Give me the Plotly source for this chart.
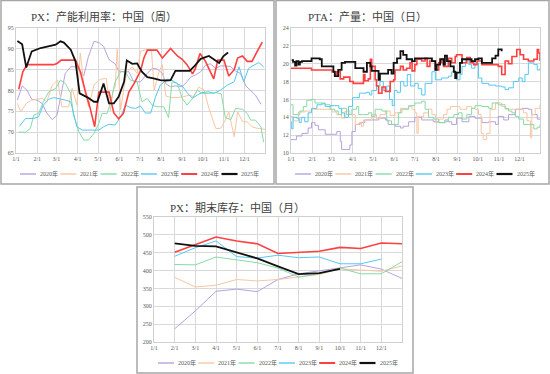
import pandas as pd
import plotly.graph_objects as go

W, H = 550, 374
YEARS = ["2020年", "2021年", "2022年", "2023年", "2024年", "2025年"]
COLORS = ["#B7A2DE", "#F8C6A2", "#86DBA6", "#55C8F2", "#FF4040", "#111111"]
WIDTHS = [1, 1, 1, 1, 1.6, 1.8]

# ---------- PX utilisation (weekly), day-of-year offsets and values ----------
px_d_2020 = [2, 9, 16, 23, 31, 38, 45, 53, 60, 67, 72, 80, 89, 99, 106, 114, 121, 128, 136, 145, 150, 158, 165, 172, 182, 192, 199, 206, 214, 219, 226, 233, 243, 250, 255, 262, 270, 277, 284, 292, 299, 306, 314, 321, 328, 336, 343, 350, 358]
px_v_2020 = [77.7, 81.1, 80.1, 77.9, 77.7, 76.9, 74.6, 73.0, 74.1, 80.5, 84.1, 85.7, 85.7, 83.5, 88.2, 91.8, 91.5, 90.6, 87.4, 86.4, 84.7, 84.5, 84.5, 82.1, 82.1, 84.1, 85.3, 85.2, 84.1, 81.6, 80.9, 81.1, 80.9, 82.1, 83.2, 83.7, 84.5, 86.1, 86.4, 85.3, 85.9, 85.9, 85.7, 84.7, 84.1, 81.1, 80.0, 78.9, 76.7]
px_d_2021 = [2, 7, 15, 23, 31, 38, 45, 53, 61, 67, 77, 82, 89, 94, 99, 106, 114, 123, 132, 138, 142, 145, 148, 153, 158, 162, 170, 177, 182, 192, 198, 202, 209, 214, 219, 226, 236, 245, 253, 260, 267, 275, 282, 292, 299, 306, 311, 319, 324, 331, 338, 345, 353, 365]
px_v_2021 = [76.9, 74.9, 76.9, 77.7, 77.9, 78.1, 77.3, 81.3, 82.5, 76.1, 76.1, 80.5, 76.5, 89.0, 81.7, 76.1, 81.3, 82.7, 82.9, 75.1, 80.1, 80.9, 89.9, 75.3, 80.9, 84.5, 85.7, 84.1, 89.4, 89.9, 89.8, 80.1, 84.5, 86.2, 78.7, 78.3, 78.3, 78.5, 78.9, 78.5, 80.8, 80.1, 75.7, 70.9, 70.9, 72.9, 74.9, 68.9, 74.9, 72.5, 72.5, 71.3, 70.9, 70.7]
px_d_2022 = [4, 14, 21, 26, 33, 40, 48, 58, 65, 72, 80, 84, 92, 99, 106, 114, 121, 126, 133, 138, 145, 153, 160, 167, 177, 184, 192, 199, 206, 216, 223, 228, 236, 243, 250, 258, 265, 272, 282, 292, 300, 306, 314, 321, 331, 338, 343, 350, 358, 362]
px_v_2022 = [70.0, 70.0, 70.9, 74.1, 74.5, 77.3, 79.7, 80.5, 82.5, 81.7, 79.3, 74.1, 70.1, 68.1, 68.1, 69.7, 72.1, 74.5, 74.5, 76.9, 82.1, 84.5, 84.5, 82.5, 82.1, 77.3, 78.1, 76.5, 76.1, 76.1, 73.5, 82.1, 81.7, 78.1, 76.5, 78.1, 80.1, 79.3, 79.3, 79.5, 79.2, 73.5, 73.0, 75.7, 75.5, 74.5, 72.9, 72.9, 71.3, 67.6]
px_d_2023 = [5, 14, 26, 33, 40, 48, 55, 62, 72, 80, 89, 97, 109, 121, 128, 136, 145, 153, 160, 167, 175, 182, 189, 197, 204, 211, 221, 228, 236, 243, 250, 258, 265, 272, 282, 289, 299, 309, 319, 326, 333, 340, 348, 355, 362]
px_v_2023 = [71.4, 73.3, 73.3, 73.7, 76.5, 77.9, 78.3, 78.1, 77.7, 77.3, 71.3, 70.5, 70.5, 70.5, 71.3, 71.9, 71.7, 73.7, 76.5, 75.9, 75.7, 76.3, 74.6, 74.6, 78.5, 81.3, 82.7, 82.5, 81.6, 81.1, 79.5, 78.1, 78.9, 79.5, 79.7, 79.3, 80.1, 81.3, 82.1, 85.7, 82.1, 85.3, 86.1, 86.7, 85.7]
px_d_2024 = [4, 10, 16, 55, 60, 66, 87, 90, 94, 101, 108, 115, 121, 136, 143, 150, 157, 165, 172, 182, 187, 192, 206, 214, 226, 236, 243, 250, 258, 262, 269, 277, 283, 289, 295, 304, 311, 319, 324, 331, 338, 345, 353, 360]
px_v_2024 = [80.3, 84.5, 86.2, 86.2, 86.5, 87.3, 87.3, 86.0, 84.5, 80.0, 76.0, 71.3, 79.6, 79.6, 74.6, 73.2, 74.5, 79.6, 81.5, 84.7, 87.8, 89.7, 89.7, 87.8, 90.1, 88.3, 87.5, 86.2, 84.0, 85.2, 88.9, 87.0, 85.0, 82.8, 87.3, 87.3, 83.5, 85.0, 87.8, 88.3, 87.0, 87.0, 89.5, 91.6]
px_d_2025 = [2, 9, 15, 23, 36, 50, 58, 65, 70, 80, 87, 93, 105, 114, 119, 128, 136, 143, 150, 158, 162, 170, 177, 184, 192, 201, 211, 219, 226, 233, 240, 254, 260, 270, 282, 289, 297, 303, 310]
px_v_2025 = [91.9, 91.1, 85.5, 89.4, 90.2, 90.6, 91.0, 91.8, 91.5, 89.8, 87.0, 79.3, 78.3, 77.3, 77.3, 81.7, 76.9, 76.9, 78.5, 82.1, 87.2, 86.4, 86.5, 84.5, 83.2, 82.9, 82.5, 82.4, 82.5, 84.7, 84.7, 84.7, 85.7, 87.6, 88.3, 87.5, 86.6, 88.2, 89.1]

# ---------- PTA output (daily), day-of-year offsets and values ----------
pta_d_2020 = [0, 8, 16, 25, 30, 35, 40, 50, 60, 67, 72, 74, 81, 86, 89, 94, 101, 108, 118, 128, 138, 142, 152, 160, 164, 172, 181, 191, 201, 208, 216, 225, 230, 235, 242, 250, 260, 269, 279, 289, 299, 303, 311, 318, 328, 338, 347, 352, 360, 364]
pta_v_2020 = [11.5, 11.9, 12.2, 12.8, 13.4, 13.1, 12.6, 12.1, 12.1, 12.4, 11.3, 10.4, 10.4, 10.9, 12.4, 13.2, 13.4, 13.7, 13.7, 13.9, 13.7, 13.2, 13.0, 12.8, 13.0, 13.5, 14.0, 13.7, 13.7, 13.5, 13.4, 13.7, 13.5, 13.2, 13.9, 13.5, 14.1, 13.9, 13.4, 13.5, 13.2, 14.1, 13.7, 14.3, 14.9, 15.0, 14.9, 14.3, 13.8, 13.7]
pta_d_2021 = [0, 3, 11, 20, 30, 50, 60, 67, 74, 79, 86, 94, 99, 103, 106, 118, 125, 130, 138, 145, 152, 160, 167, 172, 177, 181, 184, 186, 194, 201, 206, 211, 216, 223, 228, 233, 240, 247, 252, 257, 264, 269, 274, 278, 281, 286, 291, 299, 308, 313, 323, 333, 340, 345, 350, 352, 357, 364]
pta_v_2021 = [14.1, 13.6, 14.6, 14.7, 14.9, 14.9, 14.6, 14.3, 13.9, 14.7, 14.3, 13.2, 13.4, 13.0, 13.7, 14.3, 13.8, 14.3, 14.7, 14.2, 14.5, 15.0, 15.0, 15.2, 14.9, 14.5, 12.2, 14.1, 14.5, 14.9, 14.3, 13.4, 13.8, 14.3, 14.9, 15.2, 15.2, 14.9, 14.9, 15.2, 15.0, 14.9, 14.3, 12.2, 11.5, 12.2, 14.9, 15.6, 15.2, 14.9, 14.9, 14.9, 14.5, 13.6, 11.7, 14.3, 15.0, 15.4]
pta_d_2022 = [0, 3, 13, 18, 23, 30, 35, 42, 50, 57, 64, 69, 74, 81, 89, 96, 99, 106, 113, 118, 123, 128, 133, 140, 147, 152, 157, 162, 172, 181, 191, 196, 201, 208, 216, 225, 230, 238, 245, 250, 257, 264, 269, 279, 289, 294, 303, 313, 318, 323, 328, 333, 340, 347, 355, 360, 364]
pta_v_2022 = [15.4, 14.3, 14.7, 15.2, 15.9, 16.0, 15.6, 15.6, 15.4, 14.9, 14.7, 14.3, 15.0, 14.3, 14.9, 15.2, 14.3, 14.3, 14.5, 14.1, 14.9, 14.9, 14.7, 13.6, 13.2, 13.2, 14.5, 14.9, 15.3, 15.6, 15.8, 14.9, 14.0, 13.8, 13.4, 13.5, 14.0, 14.3, 14.5, 13.8, 14.3, 15.0, 15.3, 15.2, 15.0, 15.6, 15.4, 15.0, 14.7, 14.5, 14.1, 13.8, 13.2, 13.2, 12.7, 12.9, 13.2]
pta_d_2023 = [0, 1, 3, 8, 12, 15, 20, 25, 30, 38, 45, 50, 58, 70, 74, 78, 84, 90, 100, 110, 115, 118, 125, 130, 135, 140, 144, 148, 151, 155, 160, 165, 170, 175, 181, 186, 191, 196, 206, 211, 220, 230, 235, 242, 247, 250, 255, 260, 264, 269, 274, 279, 289, 299, 308, 313, 318, 325, 333, 338, 342, 347, 355, 360, 364]
pta_v_2023 = [13.5, 12.7, 14.0, 13.9, 13.4, 14.0, 13.5, 14.5, 15.0, 15.4, 15.5, 15.2, 15.3, 15.0, 14.5, 14.0, 15.2, 16.2, 16.7, 16.8, 16.5, 17.0, 17.5, 18.0, 17.0, 17.5, 16.0, 15.3, 17.0, 16.8, 18.0, 17.5, 18.8, 17.5, 17.8, 17.2, 16.5, 17.8, 19.1, 18.2, 18.4, 18.6, 19.1, 18.2, 18.8, 19.7, 20.5, 19.9, 19.5, 20.1, 18.4, 17.8, 17.6, 17.5, 17.4, 17.1, 17.3, 18.0, 18.4, 18.0, 18.8, 20.1, 19.9, 19.3, 19.5]
pta_d_2024 = [0, 30, 60, 64, 67, 72, 77, 86, 91, 106, 108, 113, 116, 118, 123, 125, 128, 133, 138, 145, 150, 152, 160, 164, 169, 174, 177, 181, 184, 191, 196, 199, 203, 211, 216, 220, 223, 230, 235, 240, 242, 250, 257, 262, 267, 272, 279, 303, 308, 313, 318, 323, 330, 335, 340, 347, 355, 360, 362, 364]
pta_v_2024 = [19.5, 19.3, 19.1, 18.8, 19.1, 18.3, 18.5, 18.0, 17.8, 18.8, 18.1, 18.3, 20.5, 19.7, 18.2, 17.5, 16.7, 17.4, 16.9, 18.0, 18.2, 19.3, 19.7, 19.3, 19.5, 20.1, 19.2, 19.9, 20.5, 20.3, 20.6, 19.7, 20.3, 19.3, 20.1, 20.5, 19.7, 20.6, 20.1, 20.8, 21.0, 20.1, 20.7, 20.1, 19.9, 20.3, 19.9, 19.7, 18.8, 20.3, 20.0, 20.8, 21.6, 21.0, 20.5, 20.3, 20.5, 21.6, 21.2, 20.3]
pta_d_2025 = [1, 3, 6, 8, 11, 13, 16, 20, 25, 30, 42, 45, 60, 62, 64, 69, 74, 79, 91, 94, 106, 111, 116, 118, 123, 128, 130, 138, 142, 147, 150, 155, 160, 164, 169, 177, 181, 191, 203, 206, 211, 213, 218, 223, 225, 228, 233, 238, 240, 242, 247, 250, 257, 264, 269, 274, 279, 289, 294, 299, 303, 308]
pta_v_2025 = [20.4, 20.2, 19.8, 20.3, 19.9, 20.2, 20.3, 20.3, 20.3, 20.6, 20.5, 19.7, 19.7, 19.1, 18.6, 19.3, 20.1, 20.2, 20.2, 19.5, 19.1, 20.1, 19.7, 19.2, 19.2, 18.2, 18.9, 18.9, 19.3, 18.9, 20.1, 20.6, 21.4, 21.0, 20.5, 20.3, 20.6, 20.6, 20.6, 20.3, 19.3, 19.9, 20.5, 19.9, 20.9, 20.3, 19.7, 19.1, 18.4, 19.0, 20.1, 20.5, 20.5, 20.3, 20.5, 20.6, 20.1, 20.1, 20.6, 20.9, 21.6, 21.4]

# ---------- PX inventory (monthly) ----------
inv_ticks = ["1/1", "2/1", "3/1", "4/1", "5/1", "6/1", "7/1", "8/1", "9/1", "10/1", "11/1", "12/1"]
inv_m = [1, 2, 3, 4, 5, 6, 7, 8, 9, 10, 11, 12]
inv_2020 = [237, 287, 342, 348, 341, 375, 391, 399, 407, 416, 404, 378]
inv_2021 = [381, 354, 359, 375, 371, 375, 382, 389, 405, 402, 398, 413]
inv_2022 = [417, 416, 438, 429, 422, 407, 382, 391, 407, 391, 391, 425]
inv_2023 = [440, 464, 483, 439, 435, 443, 436, 438, 419, 419, 432]
inv_2024 = [451, 473, 494, 483, 475, 448, 451, 454, 465, 462, 477, 475]
inv_2025 = [476, 469, 468, 450, 434, 412, 390, 393, 405]

BASE = pd.Timestamp("2001-01-01")


def to_dates(days):
    return BASE + pd.to_timedelta(days, unit="D")


fig = go.Figure()

px_sets = [(px_d_2020, px_v_2020), (px_d_2021, px_v_2021), (px_d_2022, px_v_2022),
           (px_d_2023, px_v_2023), (px_d_2024, px_v_2024), (px_d_2025, px_v_2025)]
pta_sets = [(pta_d_2020, pta_v_2020), (pta_d_2021, pta_v_2021), (pta_d_2022, pta_v_2022),
            (pta_d_2023, pta_v_2023), (pta_d_2024, pta_v_2024), (pta_d_2025, pta_v_2025)]
inv_sets = [inv_2020, inv_2021, inv_2022, inv_2023, inv_2024, inv_2025]

for i, (d, v) in enumerate(px_sets):
    fig.add_trace(go.Scatter(x=to_dates(d), y=v, mode="lines", name=YEARS[i],
                             line=dict(color=COLORS[i], width=WIDTHS[i]),
                             xaxis="x", yaxis="y", showlegend=False))
for i, (d, v) in enumerate(pta_sets):
    fig.add_trace(go.Scatter(x=to_dates(d), y=v, mode="lines", name=YEARS[i],
                             line=dict(color=COLORS[i], width=WIDTHS[i], shape="hv"),
                             xaxis="x2", yaxis="y2", showlegend=False))
for i, v in enumerate(inv_sets):
    fig.add_trace(go.Scatter(x=inv_m[:len(v)], y=v, mode="lines", name=YEARS[i],
                             line=dict(color=COLORS[i], width=WIDTHS[i]),
                             xaxis="x3", yaxis="y3", showlegend=False))

FONT = "Liberation Serif, Noto Sans CJK SC, serif"
tickfont = dict(family=FONT, size=6, color="#595959")
common = dict(showgrid=True, gridcolor="#D9D9D9", gridwidth=1, zeroline=False,
              showline=True, linecolor="#D0D0D0", linewidth=1, mirror=True,
              ticks="", tickfont=tickfont, automargin=False)

def px2x(p):
    return p / W

def px2y(p):
    return 1 - p / H

date_axis = dict(type="date", range=["2001-01-01", "2001-12-31"], dtick="M1",
                 tick0="2001-01-01", tickformat="%-m/%-d", **common)

fig.update_layout(
    width=W, height=H, autosize=False,
    margin=dict(l=0, r=0, t=0, b=0, pad=0, autoexpand=False),
    paper_bgcolor="white", plot_bgcolor="white",
    xaxis=dict(domain=[px2x(16), px2x(265)], anchor="y", **date_axis),
    yaxis=dict(domain=[px2y(153), px2y(28)], anchor="x", range=[65, 95], dtick=5, **common),
    xaxis2=dict(domain=[px2x(291), px2x(540)], anchor="y2", **date_axis),
    yaxis2=dict(domain=[px2y(153), px2y(28)], anchor="x2", range=[10, 24], dtick=2, **common),
    xaxis3=dict(domain=[px2x(154), px2x(402)], anchor="y3", range=[0, 12],
                tickvals=list(range(12)), ticktext=inv_ticks, **common),
    yaxis3=dict(domain=[px2y(342), px2y(217)], anchor="x3", range=[200, 550], dtick=50, **common),
    showlegend=False,
)

# titles
titles = [("PX：产能利用率：中国（周）", 29, 17),
          ("PTA：产量：中国（日）", 306, 17),
          ("PX：期末库存：中国（月）", 168, 207)]
for t, x, y in titles:
    fig.add_annotation(text=t, x=px2x(x), y=px2y(y), xref="paper", yref="paper",
                       xanchor="left", yanchor="middle", showarrow=False,
                       font=dict(family=FONT, size=11, color="#404040"))

# panel frames
for x0, y0, x1, y1 in [(1, 0.5, 274, 184), (276, 0.5, 549, 184), (137, 187, 413, 373)]:
    fig.add_shape(type="rect", xref="paper", yref="paper",
                  x0=px2x(x0), x1=px2x(x1), y0=px2y(y0), y1=px2y(y1),
                  line=dict(color="#A6A6A6", width=1.5))

# legends (drawn per panel)
for lx, ly in [(20, 174), (295, 174), (158, 363)]:
    for i, name in enumerate(YEARS):
        x0 = lx + i * 40.3
        fig.add_shape(type="line", xref="paper", yref="paper",
                      x0=px2x(x0), x1=px2x(x0 + 16), y0=px2y(ly), y1=px2y(ly),
                      line=dict(color=COLORS[i], width=WIDTHS[i] + 0.4))
        fig.add_annotation(text=name, x=px2x(x0 + 18), y=px2y(ly), xref="paper", yref="paper",
                           xanchor="left", yanchor="middle", showarrow=False,
                           font=dict(family=FONT, size=6, color="#595959"))

fig.write_html("out.html", config={"displayModeBar": False},
               post_script="document.body.style.margin='0';document.body.style.padding='0';")
